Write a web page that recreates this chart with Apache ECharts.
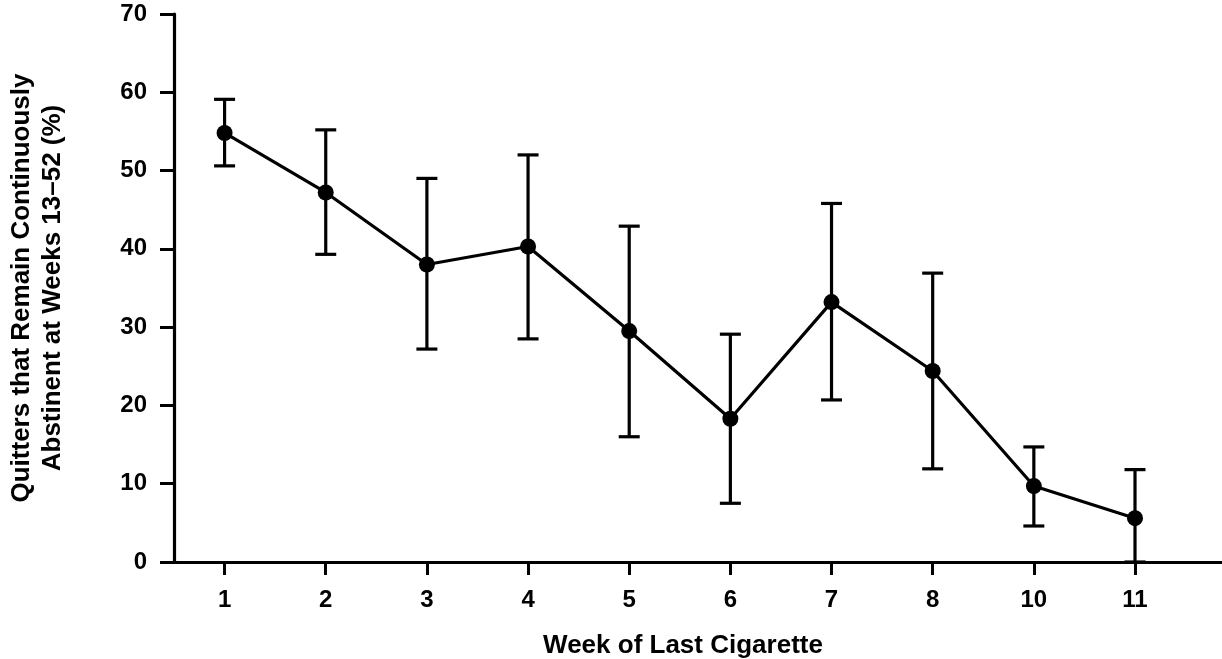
<!DOCTYPE html>
<html>
<head>
<meta charset="utf-8">
<script src="https://cdn.jsdelivr.net/npm/echarts@6/dist/echarts.min.js"></script>
<style>
  html, body { margin: 0; padding: 0; background: #fff; }
  #chart { width: 1222px; height: 659px; }
</style>
</head>
<body>
<div id="chart"></div>
<script>
// Data
const categories = ['1', '2', '3', '4', '5', '6', '7', '8', '10', '11'];
const means = [54.8, 47.2, 38.0, 40.3, 29.5, 18.3, 33.2, 24.4, 9.7, 5.6];
const upper = [59.1, 55.2, 49.0, 52.0, 42.9, 29.1, 45.8, 36.9, 14.7, 11.8];
const lower = [50.6, 39.3, 27.2, 28.5, 16.0, 7.5, 20.7, 11.9, 4.6, 0];
const yTicks = [0, 10, 20, 30, 40, 50, 60, 70];

const FONT = 'Liberation Sans';
const pos = categories.map((c, i) => i + 0.5);
const lineData = means.map((v, i) => [pos[i], v]);
const errData = means.map((v, i) => [pos[i], lower[i], upper[i]]);

const chart = echarts.init(document.getElementById('chart'), null, { renderer: 'canvas' });
chart.setOption({
  animation: false,
  backgroundColor: '#ffffff',
  grid: { left: 174, right: 0, top: 14, bottom: 97, containLabel: false, outerBoundsMode: 'none' },
  xAxis: {
    type: 'value',
    min: 0,
    max: 10.36,
    name: 'Week of Last Cigarette',
    nameLocation: 'middle',
    nameGap: 71,
    nameTextStyle: { fontFamily: FONT, fontWeight: 'bold', fontSize: 26, color: '#000', padding: [0, 30, 0, 0] },
    axisLine: { show: true, onZero: false, lineStyle: { color: '#000', width: 3.2 } },
    axisTick: { show: true, length: 13, lineStyle: { color: '#000', width: 3 }, customValues: pos },
    axisLabel: {
      show: true, margin: 26, customValues: pos,
      fontFamily: FONT, fontWeight: 'bold', fontSize: 24, color: '#000',
      formatter: v => categories[Math.round(v - 0.5)]
    },
    splitLine: { show: false }
  },
  yAxis: {
    type: 'value',
    min: yTicks[0],
    max: yTicks[yTicks.length - 1],
    interval: 10,
    name: 'Quitters that Remain Continuously\nAbstinent at Weeks 13\u201352 (%)',
    nameLocation: 'middle',
    nameGap: 106,
    nameRotate: 90,
    nameTextStyle: { fontFamily: FONT, fontWeight: 'bold', fontSize: 26, color: '#000', lineHeight: 31 },
    axisLine: { show: true, lineStyle: { color: '#000', width: 3.2 } },
    axisTick: { show: true, length: 14, lineStyle: { color: '#000', width: 3 } },
    axisLabel: { margin: 27, fontFamily: FONT, fontWeight: 'bold', fontSize: 24, color: '#000' },
    splitLine: { show: false }
  },
  series: [
    {
      type: 'custom',
      data: errData,
      z: 3,
      renderItem: function (params, api) {
        const x = api.value(0);
        const lo = api.coord([x, api.value(1)]);
        const hi = api.coord([x, api.value(2)]);
        const hw = 10.5;
        const style = { stroke: '#000', lineWidth: 3.2, fill: null };
        return {
          type: 'group',
          children: [
            { type: 'line', shape: { x1: hi[0], y1: hi[1], x2: lo[0], y2: lo[1] }, style },
            { type: 'line', shape: { x1: hi[0] - hw, y1: hi[1], x2: hi[0] + hw, y2: hi[1] }, style },
            { type: 'line', shape: { x1: lo[0] - hw, y1: lo[1], x2: lo[0] + hw, y2: lo[1] }, style }
          ]
        };
      }
    },
    {
      type: 'line',
      data: lineData,
      z: 4,
      symbol: 'circle',
      symbolSize: 16,
      lineStyle: { color: '#000', width: 3.2 },
      itemStyle: { color: '#000' }
    }
  ]
});
</script>
</body>
</html>
